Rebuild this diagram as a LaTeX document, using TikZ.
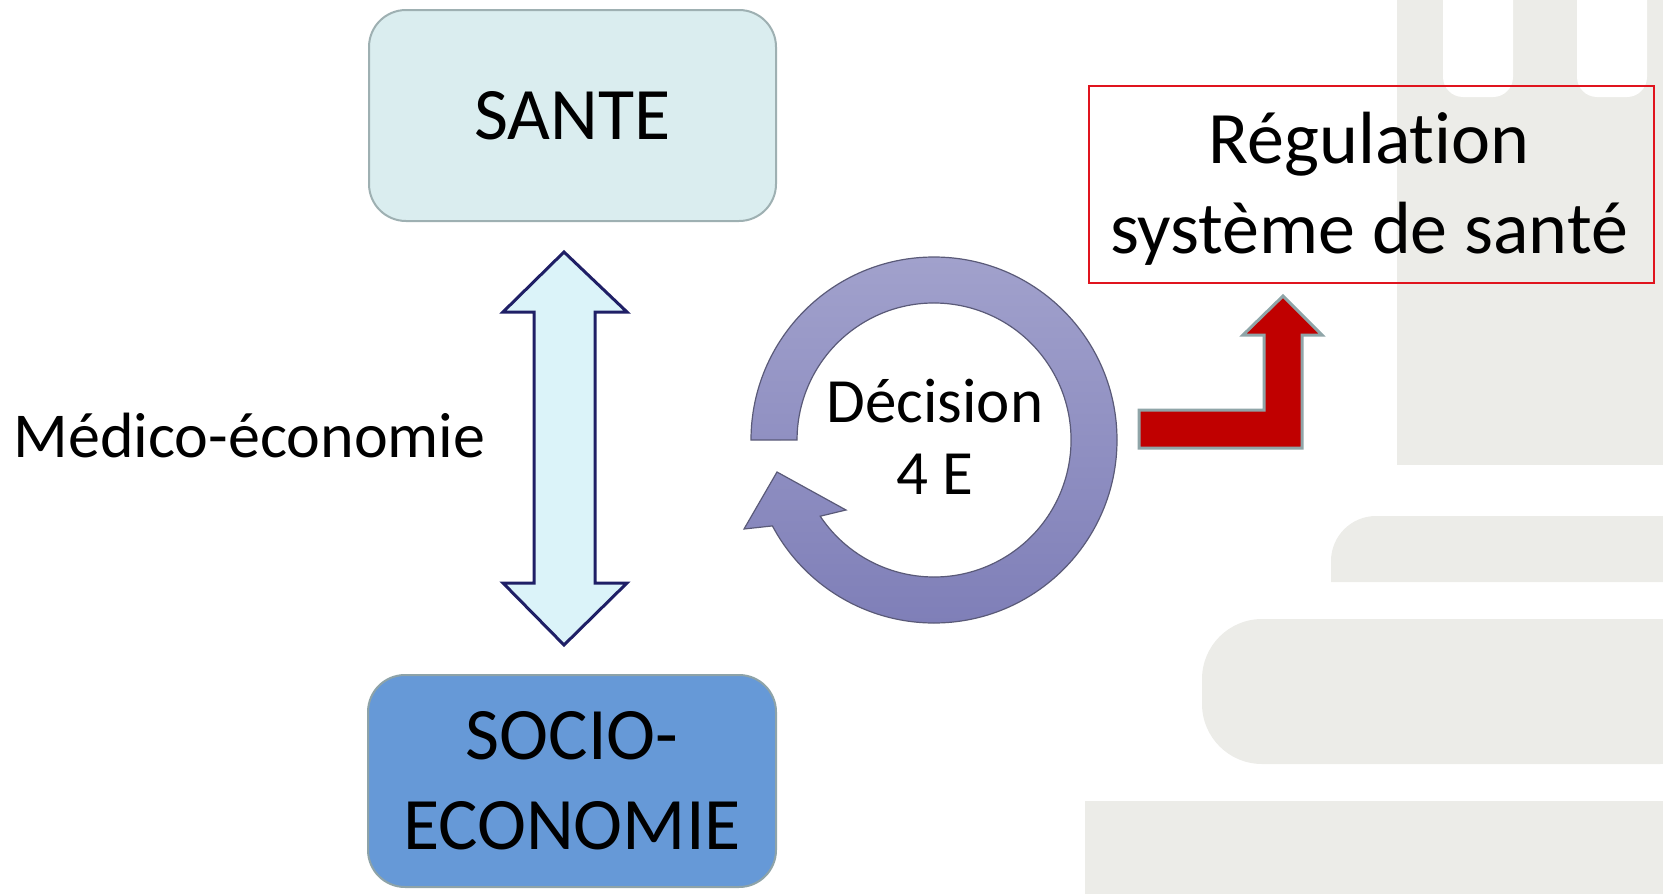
\documentclass[tikz,border=0pt]{standalone}
\usepackage{fontspec}
\setmainfont{Carlito}[Ligatures={NoCommon}]
\definecolor{bggray}{RGB}{236,236,232}
\definecolor{santefill}{RGB}{218,237,239}
\definecolor{santeborder}{RGB}{158,176,178}
\definecolor{sociofill}{RGB}{102,153,215}
\definecolor{socioborder}{RGB}{142,163,168}
\definecolor{dblfill}{RGB}{219,243,249}
\definecolor{dbldraw}{RGB}{31,31,102}
\definecolor{ringtop}{RGB}{161,161,204}
\definecolor{ringbot}{RGB}{127,127,184}
\definecolor{ringdraw}{RGB}{90,90,120}
\definecolor{redfill}{RGB}{192,0,0}
\definecolor{reddraw}{RGB}{143,165,168}
\definecolor{regdraw}{RGB}{224,20,30}
\begin{document}
\begin{tikzpicture}[x=1pt,y=-1pt,
  bigtext/.style={font=\fontsize{74}{90}\selectfont},
  midtext/.style={font=\fontsize{63}{72}\selectfont},
  roundbox/.style={rounded corners=37pt, line width=2pt, inner sep=0pt, align=center, bigtext},
  santebox/.style={roundbox, draw=santeborder, fill=santefill, minimum width=407pt, minimum height=211pt},
  sociobox/.style={roundbox, draw=socioborder, fill=sociofill, minimum width=408pt, minimum height=212pt},
  regbox/.style={draw=regdraw, line width=2pt, inner sep=0pt, minimum width=565pt, minimum height=197pt},
  dblarrow/.style={fill=dblfill, draw=dbldraw, line width=3pt, line join=miter},
  ringarrow/.style={draw=ringdraw, line width=1.2pt, top color=ringtop, bottom color=ringbot},
  redarrow/.style={fill=redfill, draw=reddraw, line width=3pt, line join=miter}
]
\useasboundingbox (0,0) rectangle (1663,894);
% background decoration
\begin{scope}
  \clip (0,0) rectangle (1663,894);
  \fill[bggray] (1397,-5) rectangle (1670,465);
  \fill[white, rounded corners=20pt] (1443,-40) rectangle (1513,97);
  \fill[white, rounded corners=20pt] (1577,-40) rectangle (1647,97);
  \fill[bggray] (1331,582) -- (1331,561) arc[start angle=180, end angle=270, radius=45] -- (1670,516) -- (1670,582) -- cycle;
  \fill[bggray, rounded corners=60pt] (1202,619) rectangle (1720,764);
  \fill[bggray] (1085,801) rectangle (1670,900);
\end{scope}

% boxes
\node[santebox] (sante) at (572.5,115.5) {SANTE};
\node[sociobox] (socio) at (572,781) {SOCIO-\\ECONOMIE};

% double arrow between the boxes
\draw[dblarrow] (564,252) -- (627,312) -- (595,312) -- (595,583) -- (627,583) -- (564,645)
  -- (503,583) -- (534,583) -- (534,312) -- (503,312) -- cycle;

\node[anchor=base west, font=\fontsize{64}{72}\selectfont] (medico) at (10,457) {Médico-économie};

% circular arrow
\path[ringarrow] (751,440) arc[start angle=180, end angle=512, radius=183]
  -- (744,529) -- (777,472) -- (846,510)
  -- (820.2,516.2) arc[start angle=506.2, end angle=180, radius=137] -- cycle;
\node[midtext, align=center, inner sep=0pt] (dec) at (935,437) {Décision\\4 E};

% bent red arrow
\draw[redarrow] (1139,410) -- (1264,410) -- (1264,335) -- (1243,335) -- (1283,296)
  -- (1322,335) -- (1302,335) -- (1302,448) -- (1139,448) -- cycle;

\node[regbox] (reg) at (1371.5,184.5) {};
\node[bigtext, align=center, inner sep=0pt] (regtext) at (1369,189) {Régulation\\système de santé};
\end{tikzpicture}
\end{document}
